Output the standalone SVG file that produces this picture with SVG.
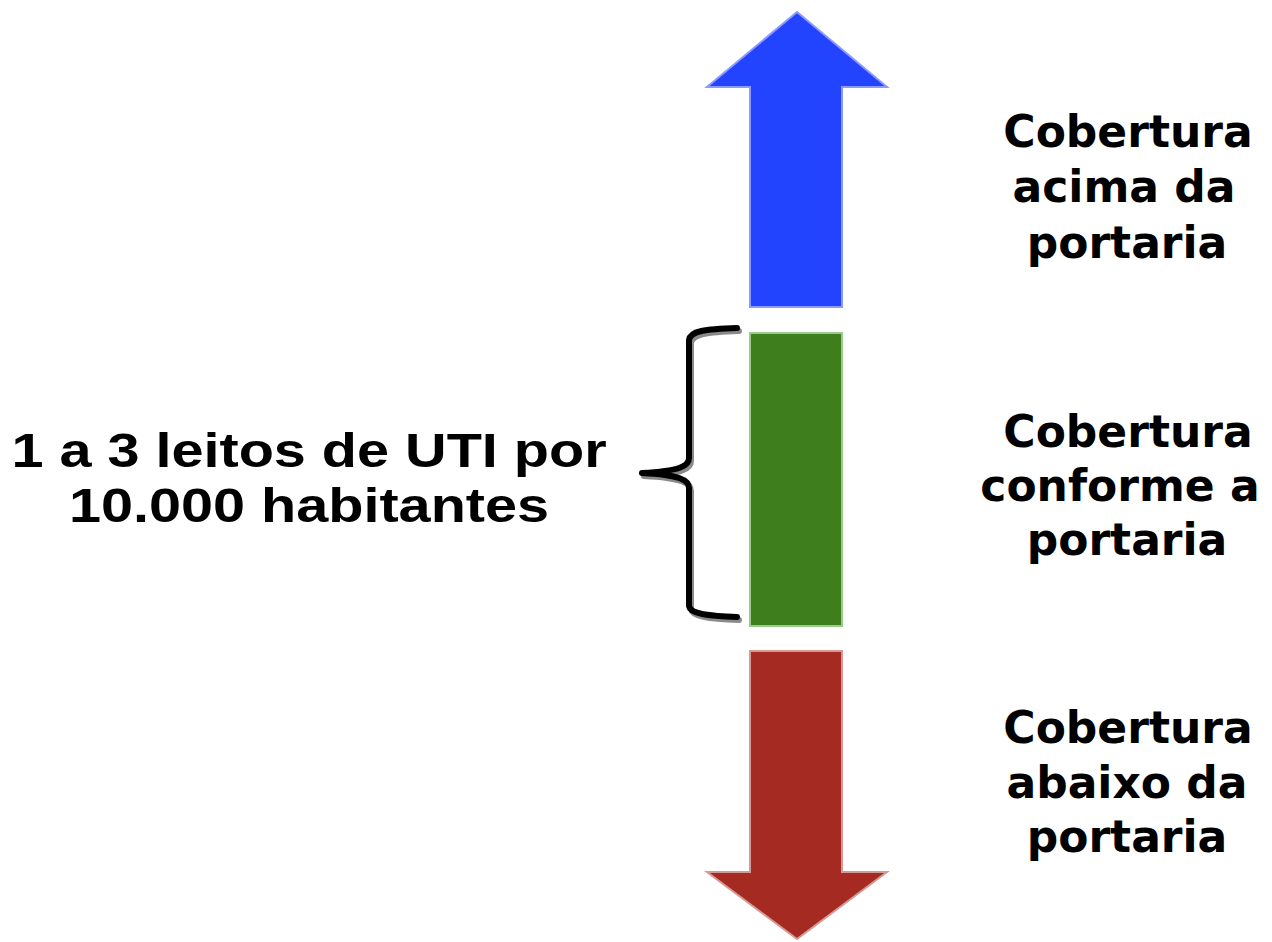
<svg xmlns="http://www.w3.org/2000/svg" width="1272" height="942" viewBox="0 0 1272 942">
<style>
.lbl{font-family:"DejaVu Sans",Verdana,sans-serif;font-weight:bold;font-size:44px;fill:#000;text-anchor:middle}
.big{font-family:"Liberation Sans",Arial,sans-serif;font-weight:bold;font-size:48px;fill:#000;text-anchor:middle}
.brace{fill:none;stroke-width:6;stroke-linecap:round;stroke-linejoin:round}
</style>
<rect width="1272" height="942" fill="#fff"/>
<g id="arrow-up">
<polygon points="797,12 887,87 842,87 842,307 750,307 750,87 707,87" fill="#2244FF" stroke="#8C99FF" stroke-width="2" stroke-linejoin="miter"/>
</g>
<g id="bar-green">
<rect x="750" y="333" width="92" height="293" fill="#3E7E1C" stroke="#9CC98C" stroke-width="2"/>
</g>
<g id="arrow-down">
<polygon points="750,651 842,651 842,872 887,872 797,939 707,872 750,872" fill="#A52A22" stroke="#D49A96" stroke-width="2"/>
</g>
<g id="connectors">
<path class="brace" stroke="#8a8a8a" transform="translate(2,3)" d="M737,328 C705,329 690,331 689,340 L689,458 C689,466 680,471 642,473 C680,475 689,480 689,488 L689,606 C690,613 705,616 737,617"/>
<path class="brace" stroke="#000" d="M737,328 C705,329 690,331 689,340 L689,458 C689,466 680,471 642,473 C680,475 689,480 689,488 L689,606 C690,613 705,616 737,617"/>
</g>
<g id="label-range" transform="translate(309,0) scale(1.2,1)">
<text class="big" x="0" y="467">1 a 3 leitos de UTI por</text>
<text class="big" x="0" y="522">10.000 habitantes</text>
</g>
<g id="label-above">
<text class="lbl" x="1128" y="147">Cobertura</text>
<text class="lbl" x="1124" y="202">acima da</text>
<text class="lbl" x="1127" y="258">portaria</text>
</g>
<g id="label-conform">
<text class="lbl" x="1128" y="447">Cobertura</text>
<text class="lbl" x="1120" y="501">conforme a</text>
<text class="lbl" x="1127" y="555">portaria</text>
</g>
<g id="label-below">
<text class="lbl" x="1128" y="743">Cobertura</text>
<text class="lbl" x="1127" y="798">abaixo da</text>
<text class="lbl" x="1127" y="852">portaria</text>
</g>
</svg>
